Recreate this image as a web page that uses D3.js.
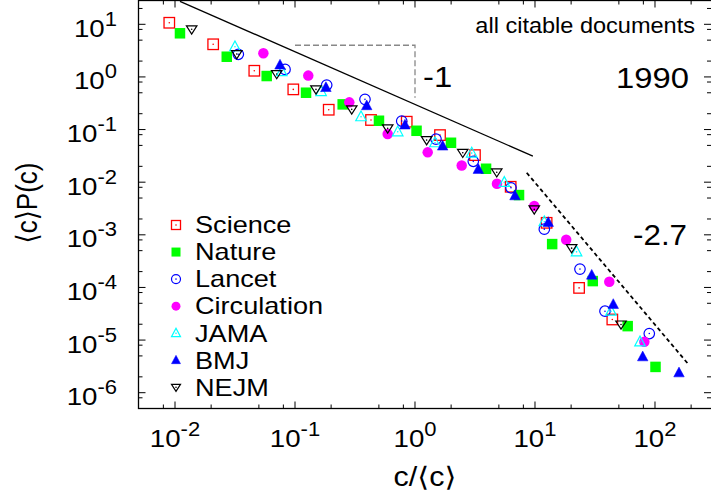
<!DOCTYPE html>
<html><head><meta charset="utf-8">
<script src="https://cdn.jsdelivr.net/npm/d3@7"></script>
<style>
body{margin:0;background:#fff}
svg{display:block}
text{font-family:"Liberation Sans",Arial,"DejaVu Sans",sans-serif;fill:#000}
</style>
</head><body>
<svg id="chart" width="711" height="499"></svg>
<script>
// ---------------- data ----------------
const journals = ["Science","Nature","Lancet","Circulation","JAMA","BMJ","NEJM"];
const colors   = ["#ff0000","#00ff00","#0000ff","#ff00ff","#00ffff","#0000ff","#000000"];
const science = [[0.00896,10.7],[0.0208,4.17],[0.0458,1.31],[0.0968,0.58],[0.191,0.238],[0.43,0.152],[0.853,0.141],[1.616,0.0785],[3.16,0.0327],[6.27,0.00818],[12.5,0.00169],[23.3,9.8e-5],[44.1,2.46e-5]];
const nature = [[0.011,6.75],[0.027,2.42],[0.0581,1.04],[0.1236,0.501],[0.2497,0.301],[0.501,0.147],[1.03,0.0948],[1.995,0.0561],[3.91,0.018],[7.36,0.00569],[13.9,6.66e-4],[30.3,1.32e-4],[59.2,1.84e-5],[101,3.09e-6]];
const lancet = [[0.0337,2.69],[0.0826,1.39],[0.1837,0.701],[0.383,0.375],[0.775,0.145],[1.496,0.0659],[3.06,0.0249],[6.31,0.00782],[11.96,0.00128],[23.7,2.23e-4],[38.3,3.54e-5],[89.6,1.33e-5]];
const circulation = [[0.0545,2.81],[0.129,1.06],[0.2835,0.329],[0.592,0.0821],[1.276,0.0369],[2.45,0.0207],[4.82,0.00933],[9.86,0.00352],[18.2,8.04e-4],[41.6,1.28e-4],[81.5,9.25e-6]];
const jama = [[0.0316,3.75],[0.0775,1.256],[0.165,0.527],[0.355,0.175],[0.718,0.0907],[1.468,0.0561],[2.97,0.0357],[5.55,0.00991],[11.96,0.00177],[22.2,4.75e-4],[43.0,3.54e-5],[75,9.25e-6]];
const bmj = [[0.075,1.68],[0.181,0.629],[0.396,0.2835],[0.825,0.122],[1.70,0.0485],[3.37,0.0175],[6.81,0.00551],[12.9,0.00172],[29.7,1.71e-4],[44.9,4.75e-5],[79,4.8e-6],[158.5,2.38e-6]];
const nejm = [[0.01377,8.03],[0.0327,2.72],[0.0704,1.135],[0.1496,0.58],[0.297,0.242],[0.592,0.1054],[1.25,0.0631],[2.5,0.0362],[4.8,0.01542],[9.86,0.00304],[20.2,5.58e-4],[52.1,1.98e-5]];
const seriesData = [science,nature,lancet,circulation,jama,bmj,nejm];
const markerTypes = ["squareOpen","squareFilled","circleOpen","circleFilled","triUpOpen","triUpFilled","triDownOpen"];

const xTickValues = [0.01,0.1,1,10,100];
const xTickExponents = ["-2","-1","0","1","2"];
const yTickValues = [10,1,0.1,0.01,1e-3,1e-4,1e-5,1e-6];
const yTickExponents = ["1","0","-1","-2","-3","-4","-5","-6"];
const minorMultipliers = [2,5,8];

const slopeOneLine = [[0.011,27.3],[9.6,0.03125]];
const slopeTwoLine = [[8.53,0.0151],[187.5,3.59e-6]];
const slopeGuide = [[0.1,4],[1,4],[1,0.4]];
const slopeLabels = ["-1","-2.7"];
const titleText = "all citable documents";
const yearText = "1990";
const xTitle = "c/\u27E8c\u27E9";
const yTitle = "\u27E8c\u27E9P(c)";

// ---------------- layout ----------------
const svg = d3.select("#chart");
const SX = 1.13; // horizontal text stretch
const x = d3.scaleLog().domain([0.005,300]).range([138.88,712.25]);
const y = d3.scaleLog().domain([30,5e-7]).range([-0.81,408.54]);
const fL = 138.5, fR = 712, fT = 0.5, fB = 408.5;

// frame
svg.append("rect").attr("x",fL).attr("y",fT).attr("width",fR-fL).attr("height",fB-fT)
  .attr("fill","none").attr("stroke","#000").attr("stroke-width",1.3);

// ticks
const xMinor = [], yMinor = [];
for (let e=-3;e<=2;e++) minorMultipliers.forEach(m=>{const v=m*Math.pow(10,e); if(v>0.005&&v<300) xMinor.push(v);});
for (let e=-7;e<=1;e++) minorMultipliers.forEach(m=>{const v=m*Math.pow(10,e); if(v>5e-7&&v<30) yMinor.push(v);});
const tk = svg.append("g").attr("stroke","#000").attr("stroke-width",1);
function xt(vals,len){vals.forEach(v=>{const px=x(v);
  tk.append("line").attr("x1",px).attr("x2",px).attr("y1",fB).attr("y2",fB-len);
  tk.append("line").attr("x1",px).attr("x2",px).attr("y1",fT).attr("y2",fT+len);});}
function yt(vals,len){vals.forEach(v=>{const py=y(v);
  tk.append("line").attr("x1",fL).attr("x2",fL+len).attr("y1",py).attr("y2",py);
  tk.append("line").attr("x1",711).attr("x2",711-len).attr("y1",py).attr("y2",py);});}
xt(xTickValues,7); xt(xMinor,4); yt(yTickValues,7); yt(yMinor,4);

// tick labels
function powLabel(px,py,anchor,exp){
  const t = svg.append("text").attr("transform",`translate(${px},${py}) scale(${SX},1)`)
    .attr("text-anchor",anchor).attr("font-size",24.5);
  t.append("tspan").text("10");
  t.append("tspan").attr("font-size",19.5).attr("dy",-11).text(exp);
}
xTickValues.forEach((v,i)=>powLabel(x(v),447,"middle",xTickExponents[i]));
yTickValues.forEach((v,i)=>powLabel(117,y(v)+12.5,"end",yTickExponents[i]));

// axis titles
svg.append("text").attr("transform",`translate(425,486) scale(${SX},1)`).attr("text-anchor","middle")
  .attr("font-size",27).text(xTitle);
svg.append("text").attr("transform",`translate(37,203) scale(${SX},1) rotate(-90)`).attr("text-anchor","middle")
  .attr("font-size",26).text(yTitle);

// reference lines
const line = d3.line().x(d=>x(d[0])).y(d=>y(d[1]));
svg.append("path").attr("d",line(slopeOneLine)).attr("fill","none").attr("stroke","#000").attr("stroke-width",1.3);
svg.append("path").attr("d",line(slopeTwoLine)).attr("fill","none").attr("stroke","#000").attr("stroke-width",1.8).attr("stroke-dasharray","4,3");
svg.append("path").attr("d",line(slopeGuide)).attr("fill","none").attr("stroke","#888").attr("stroke-width",1.3).attr("stroke-dasharray","6,3");

// annotations
function label(px,py,anchor,size,str,sx){
  svg.append("text").attr("transform",`translate(${px},${py}) scale(${sx||SX},1)`).attr("text-anchor",anchor)
    .attr("font-size",size).text(str);
}
label(695,33,"end",22,titleText,1.07);
label(689,88.3,"end",29,yearText);
label(423,86.7,"start",29,slopeLabels[0]);
label(687,245,"end",29,slopeLabels[1],1.08);

// markers
function marker(g,type,color,s){
  const h=s/2;
  if(type==="squareOpen"||type==="squareFilled"){
    g.append("rect").attr("x",-h).attr("y",-h).attr("width",s).attr("height",s)
     .attr("fill",type==="squareFilled"?color:"none").attr("stroke",color).attr("stroke-width",type==="squareFilled"?0:1.3);
  } else if(type==="circleOpen"||type==="circleFilled"){
    g.append("circle").attr("r",h).attr("fill",type==="circleFilled"?color:"none").attr("stroke",color).attr("stroke-width",type==="circleFilled"?0:1.2);
  } else if(type==="triUpOpen"||type==="triUpFilled"){
    g.append("path").attr("d",`M0,${-s*0.55}L${h},${s*0.38}L${-h},${s*0.38}Z`)
     .attr("fill",type==="triUpFilled"?color:"none").attr("stroke",color).attr("stroke-width",type==="triUpFilled"?0.5:1.2);
  } else {
    g.append("path").attr("d",`M${-h},${-s*0.33}L${h},${-s*0.33}L0,${s*0.45}Z`)
     .attr("fill","none").attr("stroke",color).attr("stroke-width",1.2);
  }
  if(type.endsWith("Open")) g.append("circle").attr("r",0.8).attr("fill",color);
}
seriesData.forEach((data,i)=>{
  const gs = svg.append("g");
  gs.selectAll("g").data(data).enter().append("g")
    .attr("transform",d=>`translate(${x(d[0])},${y(d[1])})`)
    .each(function(){marker(d3.select(this),markerTypes[i],colors[i],10.5);});
});

// legend
journals.forEach((name,i)=>{
  const cy = 225 + i*27.05;
  const g = svg.append("g").attr("transform",`translate(176,${cy})`);
  marker(g,markerTypes[i],colors[i],9);
  label(195,cy+8.3,"start",24,name);
});
</script>
</body></html>
